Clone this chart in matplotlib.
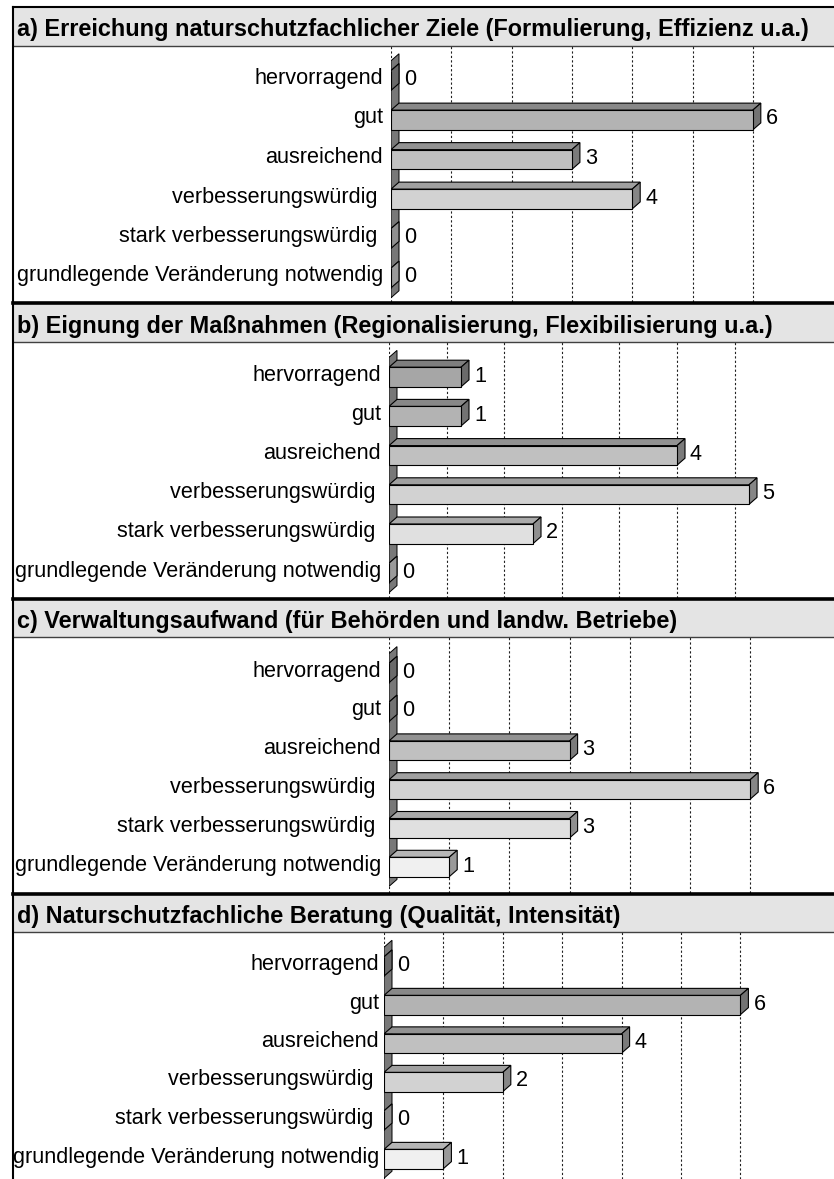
import numpy as np
import matplotlib
matplotlib.use("Agg")
import matplotlib.pyplot as plt
from matplotlib.patches import Polygon, Rectangle
from matplotlib.lines import Line2D

plt.rcParams['font.family'] = ['Liberation Sans', 'DejaVu Sans']

# Daten
categories = ['hervorragend', 'gut', 'ausreichend', 'verbesserungswürdig ',
              'stark verbesserungswürdig ', 'grundlegende Veränderung notwendig']
titles = ['a) Erreichung naturschutzfachlicher Ziele (Formulierung, Effizienz u.a.)',
          'b) Eignung der Maßnahmen (Regionalisierung, Flexibilisierung u.a.)',
          'c) Verwaltungsaufwand (für Behörden und landw. Betriebe)',
          'd) Naturschutzfachliche Beratung (Qualität, Intensität)']
values_a = [0, 6, 3, 4, 0, 0]
values_b = [1, 1, 4, 5, 2, 0]
values_c = [0, 0, 3, 6, 3, 1]
values_d = [0, 6, 4, 2, 0, 1]
all_values = [values_a, values_b, values_c, values_d]

# Farben (Vorderseite je Kategorie)
front_colors = ['#a6a6a6', '#b3b3b3', '#c0c0c0', '#d2d2d2', '#e0e0e0', '#f0f0f0']

W, H = 834, 1179
fig = plt.figure(figsize=(W / 100, H / 100), dpi=100)

# Layout in Pixeln: Kopfzeile, Diagrammbereich unten, Achse x, px pro Einheit,
# Mitte der ersten Kategorie, Abstand, Gitterabstand, Grundlinie Titel, Abstand Beschriftung
layout = [
    dict(head=(7, 46), bottom=302, ax_x=391, unit=60.3, first=80.5, step=39.5, grid=1.0, base=36, lab=-8),
    dict(head=(304, 342), bottom=598, ax_x=389, unit=72.0, first=377.0, step=39.2, grid=0.8, base=333, lab=-8),
    dict(head=(600, 637), bottom=893, ax_x=389, unit=60.2, first=673.0, step=38.8, grid=1.0, base=628, lab=-8),
    dict(head=(895, 932), bottom=1179, ax_x=384, unit=59.4, first=966.5, step=38.5, grid=1.0, base=923, lab=-5),
]

def fx(px):
    return px / W

def fy(py):
    return 1 - py / H

def shade(hexcol, f):
    r, g, b = matplotlib.colors.to_rgb(hexcol)
    return (r * f, g * f, b * f)

for title, vals, lay in zip(titles, all_values, layout):
    h0, h1 = lay['head']
    # Kopfzeile
    fig.patches.append(Rectangle((fx(13), fy(h1)), fx(W - 13), (h1 - h0) / H,
                                 transform=fig.transFigure, facecolor='#e4e4e4',
                                 edgecolor='none', zorder=0))
    fig.lines.append(Line2D([fx(13), 1], [fy(h1), fy(h1)], transform=fig.transFigure,
                            color='#404040', lw=1.0))
    fig.text(fx(17), fy(lay['base']), title, fontsize=16.9, fontweight='bold',
             ha='left', va='baseline')

    # Diagrammbereich
    top, bot = h1, lay['bottom']
    x0 = lay['ax_x']
    ax = fig.add_axes([fx(x0), fy(bot), fx(W - x0), (bot - top) / H])
    ax.set_xlim(0, (W - x0) / lay['unit'])
    ax.set_ylim((bot - lay['first']) / lay['step'], (top - lay['first']) / lay['step'])
    ax.axis('off')

    dx = 8 / lay['unit']
    dy = 7 / lay['step']
    bh = 0.5

    # Gitterlinien
    for g in np.arange(7) * lay['grid']:
        ax.axvline(g, color='#202020', lw=0.8, ls=(0, (2, 2)), zorder=0)

    # Seitenwand
    wall = Polygon([(0, -0.5), (dx, -0.5 - dy), (dx, 5.5 - dy), (0, 5.5)],
                   closed=True, facecolor='#787878', edgecolor='black', lw=0.7, zorder=1)
    ax.add_patch(wall)

    y = np.arange(len(categories))
    ax.barh(y, vals, height=bh, color=front_colors, edgecolor='black', lw=0.8, zorder=4)
    for yi, v, col in zip(y, vals, front_colors):
        t = yi - bh / 2
        b = yi + bh / 2
        topf = Polygon([(0, t), (v, t), (v + dx, t - dy), (dx, t - dy)], closed=True,
                       facecolor=shade(col, 0.76), edgecolor='black', lw=0.8, zorder=3)
        side = Polygon([(v, t), (v + dx, t - dy), (v + dx, b - dy), (v, b)], closed=True,
                       facecolor=shade(col, 0.64), edgecolor='black', lw=0.8, zorder=3)
        ax.add_patch(topf)
        ax.add_patch(side)
        ax.annotate(str(v), (v, yi), xytext=(13, 1), textcoords='offset pixels',
                    ha='left', va='center', fontsize=15.6)
        ax.annotate(categories[yi], (0, yi), xytext=(lay['lab'], 2), textcoords='offset pixels',
                    ha='right', va='center', fontsize=15.6, annotation_clip=False)

    # Trennlinie unter dem Panel
    if bot < H:
        fig.lines.append(Line2D([fx(13), 1], [fy(bot + 1), fy(bot + 1)],
                                transform=fig.transFigure, color='black', lw=2.6))

# Rahmen oben und links
fig.lines.append(Line2D([fx(13), 1], [fy(7), fy(7)], transform=fig.transFigure,
                        color='black', lw=1.5))
fig.lines.append(Line2D([fx(13), fx(13)], [fy(7), 0], transform=fig.transFigure,
                        color='black', lw=1.5))

fig.savefig('out.png', dpi=100)
